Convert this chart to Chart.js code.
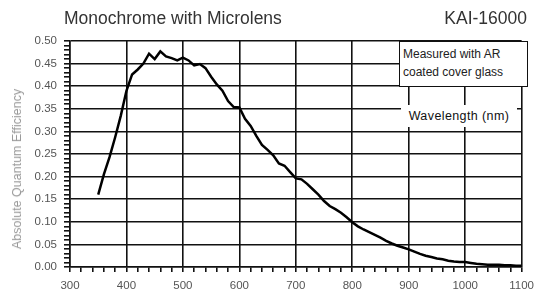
<!DOCTYPE html>
<html>
<head>
<meta charset="utf-8">
<script src="https://cdn.jsdelivr.net/npm/chart.js@4"></script>
<style>
  body { margin: 0; background: #fff; }
  #wrap { position: relative; width: 541px; height: 293px; font-family: 'Liberation Sans', Arial, sans-serif; }
  #wrap canvas { position: absolute; left: 0; top: 0; }
  .lbl { position: absolute; white-space: nowrap; }
  #title-left { left: 64px; top: 8px; font-size: 17.5px; color: #333; }
  #title-right { right: 14px; top: 8px; font-size: 17.5px; color: #333; }
  #ytitle { left: 17px; top: 169px; font-size: 12.5px; color: #9a9a9a; transform: translate(-50%, -50%) rotate(-90deg); }
  #note { left: 399px; top: 40.5px; width: 128.5px; height: 46px; border: 1.5px solid #111; background: #fff;
          font-size: 12px; line-height: 18px; color: #222; padding: 3px 0 0 3px; box-sizing: border-box; }
  #xtitle { left: 401px; top: 105px; width: 116px; height: 22px; background: #fff; text-align: center;
            font-size: 12.5px; line-height: 22px; color: #111; letter-spacing: 0.4px; }
</style>
</head>
<body>
<div id="wrap">
  <canvas id="myChart" width="541" height="293"></canvas>
  <div class="lbl" id="title-left">Monochrome with Microlens</div>
  <div class="lbl" id="title-right">KAI-16000</div>
  <div class="lbl" id="ytitle">Absolute Quantum Efficiency</div>
  <div class="lbl" id="note">Measured with AR<br>coated cover glass</div>
  <div class="lbl" id="xtitle">Wavelength (nm)</div>
</div>
<script>
// wavelength in nm
const wavelengths = [350, 360, 370, 380, 390, 400, 410, 420, 430, 440,
  450, 460, 470, 480, 490, 500, 510, 520, 530, 540,
  550, 560, 570, 580, 590, 600, 610, 620, 630, 640,
  650, 660, 670, 680, 690, 700, 710, 720, 730, 740,
  750, 760, 770, 780, 790, 800, 810, 820, 830, 840,
  850, 860, 870, 880, 890, 900, 910, 920, 930, 940,
  950, 960, 970, 980, 990, 1000, 1010, 1020, 1030, 1040,
  1050, 1060, 1070, 1080, 1090, 1100];

// absolute quantum efficiency
const efficiency = [0.160, 0.205, 0.243, 0.287, 0.335, 0.390, 0.426, 0.437, 0.450, 0.472,
  0.460, 0.477, 0.466, 0.462, 0.457, 0.463, 0.457, 0.446, 0.449, 0.440,
  0.421, 0.404, 0.390, 0.367, 0.354, 0.353, 0.328, 0.312, 0.290, 0.270,
  0.259, 0.247, 0.229, 0.224, 0.210, 0.196, 0.194, 0.184, 0.172, 0.160,
  0.146, 0.135, 0.128, 0.120, 0.110, 0.099, 0.090, 0.083, 0.077, 0.071,
  0.065, 0.058, 0.052, 0.047, 0.043, 0.039, 0.034, 0.029, 0.025, 0.022,
  0.019, 0.017, 0.014, 0.012, 0.011, 0.011, 0.009, 0.007, 0.006, 0.005,
  0.005, 0.005, 0.004, 0.004, 0.003, 0.003];

const xTickLabels = ['300', '400', '500', '600', '700', '800', '900', '1000', '1100'];
const yTickLabels = ['0.00', '0.05', '0.10', '0.15', '0.20', '0.25', '0.30', '0.35', '0.40', '0.45', '0.50'];

const tickFont = { family: "'Liberation Sans', Arial, sans-serif", size: 11.5 };
const tickColor = '#555';
const lineColor = '#111';

function xMajor(v) { return Math.round(v) % 100 === 0; }
function yMajor(v) { return Math.round(v * 100) % 5 === 0; }

window.onload = function () {
  const points = wavelengths.map((w, i) => ({ x: w, y: efficiency[i] }));
  const ctx = document.getElementById('myChart').getContext('2d');

  new Chart(ctx, {
    type: 'line',
    data: {
      datasets: [{
        data: points,
        borderColor: '#000',
        borderWidth: 2.5,
        pointRadius: 0,
        tension: 0,
        fill: false
      }]
    },
    options: {
      responsive: false,
      animation: false,
      layout: { padding: { top: 41, right: 14, left: 0, bottom: 0 } },
      plugins: { legend: { display: false }, tooltip: { enabled: false } },
      scales: {
        x: {
          type: 'linear',
          min: 300,
          max: 1100,
          afterFit: (s) => { s.height = 26; },
          border: { color: lineColor, width: 1.5 },
          grid: {
            color: (c) => xMajor(c.tick.value) ? lineColor : 'rgba(0,0,0,0)',
            tickColor: lineColor,
            lineWidth: 1.6,
            tickLength: 5
          },
          ticks: {
            stepSize: 20,
            autoSkip: false,
            maxRotation: 0,
            padding: 7,
            color: tickColor,
            font: tickFont,
            callback: (v) => {
              const s = String(Math.round(v));
              return xMajor(v) && xTickLabels.includes(s) ? s : '';
            }
          }
        },
        y: {
          min: 0,
          max: 0.5,
          afterFit: (s) => { s.width = 70; },
          border: { color: lineColor, width: 1.5 },
          grid: {
            color: (c) => yMajor(c.tick.value) ? lineColor : 'rgba(0,0,0,0)',
            tickColor: lineColor,
            lineWidth: 1.6,
            tickLength: 6
          },
          ticks: {
            stepSize: 0.01,
            autoSkip: false,
            padding: 7,
            color: tickColor,
            font: tickFont,
            callback: (v) => {
              const s = v.toFixed(2);
              return yMajor(v) && yTickLabels.includes(s) ? s : '';
            }
          }
        }
      }
    }
  });
};
</script>
</body>
</html>
